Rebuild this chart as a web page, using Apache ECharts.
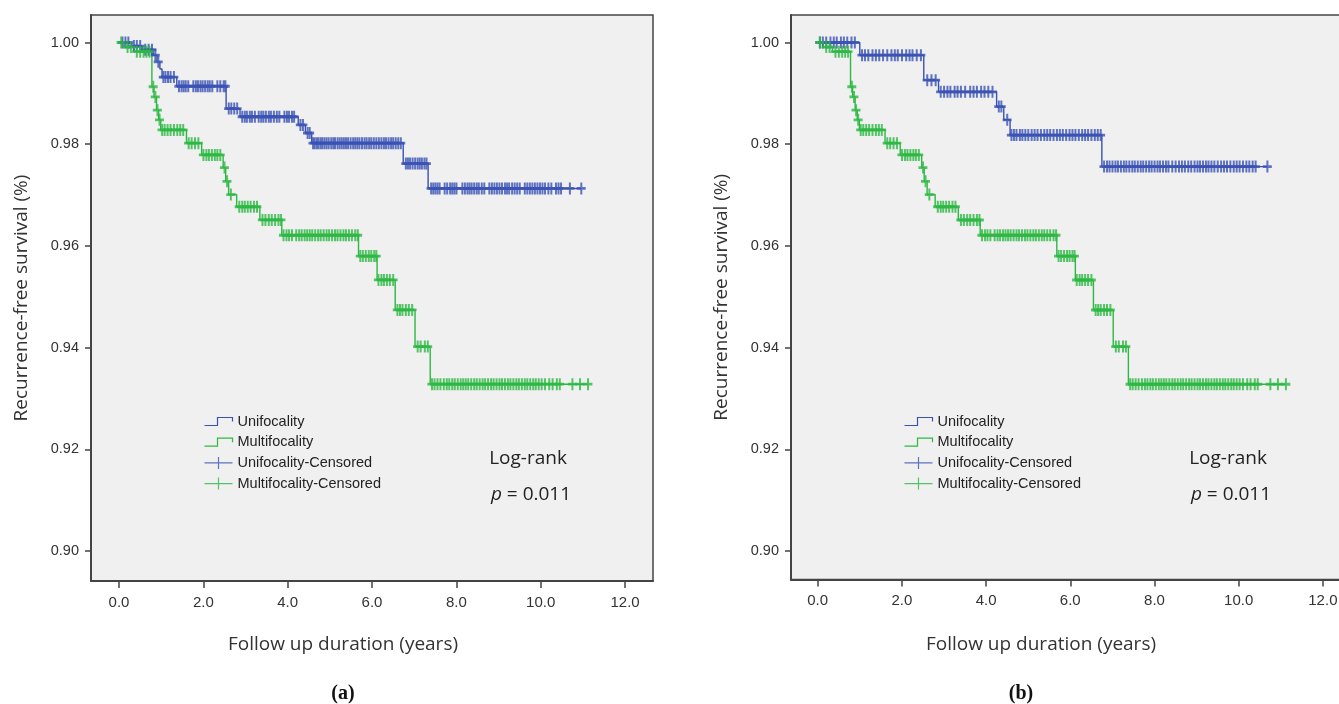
<!DOCTYPE html>
<html><head><meta charset="utf-8">
<script src="https://cdn.jsdelivr.net/npm/echarts@6/dist/echarts.min.js"></script>
<style>html,body{margin:0;padding:0;background:#fff;}#c{width:1339px;height:704px;}</style>
</head><body><div id="c"></div>
<script>
// ---- tick labels ----
const xTicks = [0, 2, 4, 6, 8, 10, 12];
const yTicks = [0.90, 0.92, 0.94, 0.96, 0.98, 1.00];

// ---- panel (a): Unifocality events ----
const uniTimeA = [0, 0.3, 0.55, 0.82, 0.9, 0.97, 1.02, 1.37, 2.54, 2.87, 4.25, 4.42, 4.57, 6.74, 7.33];
const uniSurvA = [1.0, 0.9993, 0.9986, 0.9975, 0.9962, 0.9948, 0.9932, 0.9914, 0.9870, 0.9854, 0.9838, 0.9822, 0.9802, 0.9762, 0.9713];
const uniEndA = 10.96;
const uniCensA = [0.08, 0.15, 0.22, 0.35, 0.42, 0.5, 0.62, 0.7, 0.78, 0.86, 0.93,
  1.05, 1.1, 1.16, 1.22, 1.3,
  1.42, 1.48, 1.53, 1.58, 1.64, 1.76, 1.82, 1.87, 1.93, 1.98, 2.04, 2.1, 2.15, 2.21, 2.33, 2.4, 2.48, 2.52,
  2.6, 2.66, 2.73, 2.8,
  2.92, 2.98, 3.03, 3.1, 3.15, 3.22, 3.31, 3.37, 3.42, 3.48, 3.55, 3.6, 3.67, 3.74, 3.8, 3.92, 3.98, 4.03, 4.1, 4.15,
  4.3, 4.36, 4.47, 4.52,
  4.6, 4.64, 4.69, 4.73, 4.78, 4.82, 4.87, 4.92, 4.97, 5.03, 5.08, 5.12, 5.18, 5.23, 5.28, 5.33, 5.38, 5.43, 5.49, 5.55,
  5.6, 5.65, 5.7, 5.76, 5.82, 5.87, 5.93, 5.98, 6.04, 6.1, 6.16, 6.22, 6.28, 6.33, 6.39, 6.45, 6.5, 6.56, 6.62, 6.68,
  6.8, 6.85, 6.9, 6.96, 7.02, 7.08, 7.13, 7.18, 7.24, 7.29,
  7.4, 7.45, 7.5, 7.55, 7.6, 7.72, 7.78, 7.85, 7.9, 7.95, 8.0, 8.14, 8.2, 8.26, 8.31, 8.36, 8.42, 8.48, 8.53, 8.6,
  8.66, 8.78, 8.84, 8.9, 8.96, 9.02, 9.08, 9.15, 9.2, 9.25, 9.32, 9.38, 9.44, 9.5, 9.62, 9.68, 9.74, 9.8, 9.86, 9.92,
  9.98, 10.04, 10.1, 10.18, 10.25, 10.36, 10.42, 10.48, 10.69, 10.96];

// ---- Multifocality events (same in both panels) ----
const multiTime = [0, 0.12, 0.35, 0.78, 0.83, 0.89, 0.94, 0.99, 1.6, 1.96, 2.47, 2.53, 2.6, 2.79, 3.34, 3.86, 5.68, 6.12, 6.55, 7.02, 7.38];
const multiSurv = [1.0, 0.9991, 0.9982, 0.9913, 0.9893, 0.9867, 0.9848, 0.9828, 0.9802, 0.9779, 0.9754, 0.9727, 0.9701, 0.9677, 0.9651, 0.9621, 0.9580, 0.9533, 0.9474, 0.9402, 0.9328];
const multiEnd = 11.12;
const multiCens = [0.05, 0.2, 0.28, 0.42, 0.5, 0.58, 0.65, 0.72, 0.81, 0.86, 0.91, 0.96,
  1.02, 1.08, 1.15, 1.22, 1.3, 1.38, 1.45, 1.52,
  1.65, 1.72, 1.8, 1.88,
  2.0, 2.07, 2.13, 2.2, 2.27, 2.33, 2.4, 2.5, 2.56, 2.65,
  2.85, 2.92, 2.98, 3.05, 3.12, 3.2, 3.27,
  3.4, 3.47, 3.55, 3.62, 3.7, 3.78, 3.84,
  3.9, 3.97, 4.03, 4.1, 4.2, 4.27, 4.33, 4.4, 4.46, 4.52, 4.58, 4.65, 4.72, 4.78, 4.85, 4.92, 4.98, 5.05,
  5.12, 5.18, 5.25, 5.32, 5.38, 5.45, 5.52, 5.6, 5.66,
  5.72, 5.78, 5.85, 5.92, 5.98, 6.05, 6.1,
  6.15, 6.22, 6.28, 6.35, 6.42, 6.5,
  6.6, 6.66, 6.72, 6.8, 6.87, 6.95,
  7.08, 7.15, 7.25, 7.32,
  7.42, 7.48, 7.55, 7.62, 7.7, 7.77, 7.83, 7.9, 7.96, 8.03, 8.1, 8.16, 8.22, 8.28, 8.35, 8.42, 8.48, 8.55,
  8.62, 8.68, 8.75, 8.82, 8.88, 8.95, 9.02, 9.08, 9.15, 9.22, 9.28, 9.35, 9.42, 9.48, 9.55, 9.62, 9.68,
  9.75, 9.82, 9.88, 9.95, 10.02, 10.1, 10.2, 10.28, 10.38, 10.45, 10.75, 10.93, 11.12];

// ---- panel (b): Unifocality events ----
const uniTimeB = [0, 1.0, 2.52, 2.87, 4.25, 4.42, 4.57, 6.75];
const uniSurvB = [1.0, 0.9975, 0.9926, 0.9903, 0.9874, 0.9848, 0.9818, 0.9756];
const uniEndB = 10.68;
const uniCensB = [0.05, 0.12, 0.2, 0.3, 0.38, 0.45, 0.55, 0.62, 0.7, 0.8, 0.88,
  1.05, 1.12, 1.2, 1.3, 1.38, 1.46, 1.55, 1.65, 1.75, 1.83, 1.9, 2.0, 2.1, 2.18, 2.25, 2.35, 2.45,
  2.6, 2.7, 2.8,
  2.92, 3.0, 3.08, 3.15, 3.25, 3.32, 3.4, 3.5, 3.62, 3.7, 3.78, 3.88, 3.96, 4.05, 4.15,
  4.3, 4.36, 4.5,
  4.6, 4.66, 4.72, 4.8, 4.86, 4.93, 5.0, 5.08, 5.15, 5.22, 5.3, 5.38, 5.45, 5.52, 5.6, 5.68, 5.75, 5.82,
  5.9, 5.98, 6.05, 6.12, 6.2, 6.28, 6.35, 6.42, 6.5, 6.58, 6.65, 6.72,
  6.8, 6.87, 6.93, 7.0, 7.07, 7.13, 7.2, 7.27, 7.33, 7.4, 7.47, 7.53, 7.6, 7.67, 7.73, 7.8, 7.87, 7.93,
  8.0, 8.07, 8.13, 8.2, 8.27, 8.33, 8.42, 8.5, 8.58, 8.65, 8.72, 8.8, 8.87, 8.95, 9.02, 9.08, 9.15,
  9.22, 9.28, 9.35, 9.42, 9.5, 9.58, 9.65, 9.72, 9.8, 9.88, 9.95, 10.02, 10.1, 10.18, 10.25, 10.33, 10.4, 10.68];

// ---- styling ----
const BLUE = '#3a52b4';
const GREEN = '#2db843';
const AXC = '#444';

function stepData(times, surv, end) {
  const d = times.map((t, i) => [t, surv[i]]);
  d.push([end, surv[surv.length - 1]]);
  return d;
}
function survAt(times, surv, t) {
  let s = surv[0];
  for (let i = 0; i < times.length; i++) { if (times[i] <= t) s = surv[i]; }
  return s;
}
function censData(cens, times, surv) {
  return cens.map(t => [t, survAt(times, surv, t)]);
}

const grids = [
  {left: 91, top: 15, width: 562, height: 566},
  {left: 791, top: 15, width: 560, height: 564.5}
];
const xRange = [[-0.664, 12.663], [-0.634, 12.668]];
const yRange = [[0.8941, 1.00541], [0.8944, 1.00541]];

function xAx(i) {
  return {
    type: 'value', gridIndex: i, min: xRange[i][0], max: xRange[i][1],
    axisLine: {show: true, onZero: false, lineStyle: {color: AXC, width: 2}},
    axisTick: {show: true, length: 7, customValues: xTicks, lineStyle: {color: AXC, width: 1.5}},
    axisLabel: {customValues: xTicks, formatter: v => v.toFixed(1), margin: 14,
      fontFamily: 'Liberation Sans', fontSize: 15, color: '#333'},
    splitLine: {show: false}
  };
}
function yAx(i) {
  return {
    type: 'value', gridIndex: i, min: yRange[i][0], max: yRange[i][1],
    name: 'Recurrence-free survival (%)', nameLocation: 'middle', nameGap: 60,
    nameTextStyle: {fontFamily: 'Open Sans', fontSize: 19, color: '#333'},
    axisLine: {show: true, onZero: false, lineStyle: {color: AXC, width: 2}},
    axisTick: {show: true, length: 6, customValues: yTicks, lineStyle: {color: AXC, width: 1.5}},
    axisLabel: {customValues: yTicks, formatter: v => v.toFixed(2), margin: 12, padding: [6, 0, 0, 0],
      fontFamily: 'Liberation Sans', fontSize: 14.5, color: '#333'},
    splitLine: {show: false}
  };
}

// filled plus: thick horizontal arm, narrower vertical arm
const plusSym = 'path://M0,4.6H3.6V0H5.6V4.6H9V7.4H5.6V12H3.6V7.4H0Z';
function lineSeries(name, data, color, i) {
  return {name, type: 'line', xAxisIndex: i, yAxisIndex: i, data, step: 'end',
    showSymbol: false, symbol: 'none', lineStyle: {color, width: 1.4}, itemStyle: {color}, z: 2};
}
function censSeries(name, data, color, i) {
  return {name, type: 'scatter', xAxisIndex: i, yAxisIndex: i, data, symbol: plusSym,
    symbolSize: [9, 12], itemStyle: {color, borderWidth: 0}, z: 3};
}

function legendFor(left) {
  return {
    left, top: 408, orient: 'vertical', itemWidth: 28, itemHeight: 12, itemGap: 3.7,
    textStyle: {fontFamily: 'Liberation Sans', fontSize: 14.5, color: '#222', lineHeight: 17},
    data: [
      {name: 'Unifocality', icon: 'path://M0,8L13,8L13,0L28,0L28,4', itemStyle: {color: 'none', borderColor: BLUE, borderWidth: 1.2}},
      {name: 'Multifocality', icon: 'path://M0,8L13,8L13,0L28,0L28,4', itemStyle: {color: 'none', borderColor: GREEN, borderWidth: 1.2}},
      {name: 'Unifocality-Censored', icon: 'path://M0,6L28,6M14,0L14,12', itemStyle: {color: 'none', borderColor: BLUE, borderWidth: 1.2}},
      {name: 'Multifocality-Censored', icon: 'path://M0,6L28,6M14,0L14,12', itemStyle: {color: 'none', borderColor: GREEN, borderWidth: 1.2}}
    ]
  };
}

function texts(dx, xt, lab) {
  return [
    {type: 'text', x: 528 + dx, y: 459, style: {text: 'Log-rank', font: '19px "Open Sans"', fill: '#222', align: 'center', verticalAlign: 'middle'}},
    {type: 'text', x: 531 + dx, y: 495, style: {text: '{i|p} = 0.011', font: '19px "Open Sans"', fill: '#222', align: 'center', verticalAlign: 'middle',
      rich: {i: {fontStyle: 'italic', fontFamily: 'Open Sans', fontSize: 19}}}},
    {type: 'text', x: xt, y: 645, style: {text: 'Follow up duration (years)', font: '19px "Open Sans"', fill: '#333', align: 'center', verticalAlign: 'middle'}},
    {type: 'text', x: lab, y: 694, style: {text: '(' + (dx ? 'b' : 'a') + ')', font: 'bold 20px "Liberation Serif"', fill: '#111', align: 'center', verticalAlign: 'middle'}}
  ];
}

const chart = echarts.init(document.getElementById('c'), null, {renderer: 'canvas'});
chart.setOption({
  animation: false,
  backgroundColor: '#ffffff',
  grid: grids.map(g => Object.assign({show: true, backgroundColor: '#f0f0f0', borderColor: AXC, borderWidth: 1.5,
    containLabel: false, outerBoundsMode: 'none'}, g)),
  xAxis: [xAx(0), xAx(1)],
  yAxis: [yAx(0), yAx(1)],
  legend: [legendFor(197), legendFor(897)],
  series: [
    lineSeries('Unifocality', stepData(uniTimeA, uniSurvA, uniEndA), BLUE, 0),
    lineSeries('Multifocality', stepData(multiTime, multiSurv, multiEnd), GREEN, 0),
    censSeries('Unifocality-Censored', censData(uniCensA, uniTimeA, uniSurvA), BLUE, 0),
    censSeries('Multifocality-Censored', censData(multiCens, multiTime, multiSurv), GREEN, 0),
    lineSeries('Unifocality', stepData(uniTimeB, uniSurvB, uniEndB), BLUE, 1),
    lineSeries('Multifocality', stepData(multiTime, multiSurv, multiEnd), GREEN, 1),
    censSeries('Unifocality-Censored', censData(uniCensB, uniTimeB, uniSurvB), BLUE, 1),
    censSeries('Multifocality-Censored', censData(multiCens, multiTime, multiSurv), GREEN, 1)
  ],
  graphic: texts(0, 343, 343).concat(texts(700, 1041, 1021))
});
</script>
</body></html>
